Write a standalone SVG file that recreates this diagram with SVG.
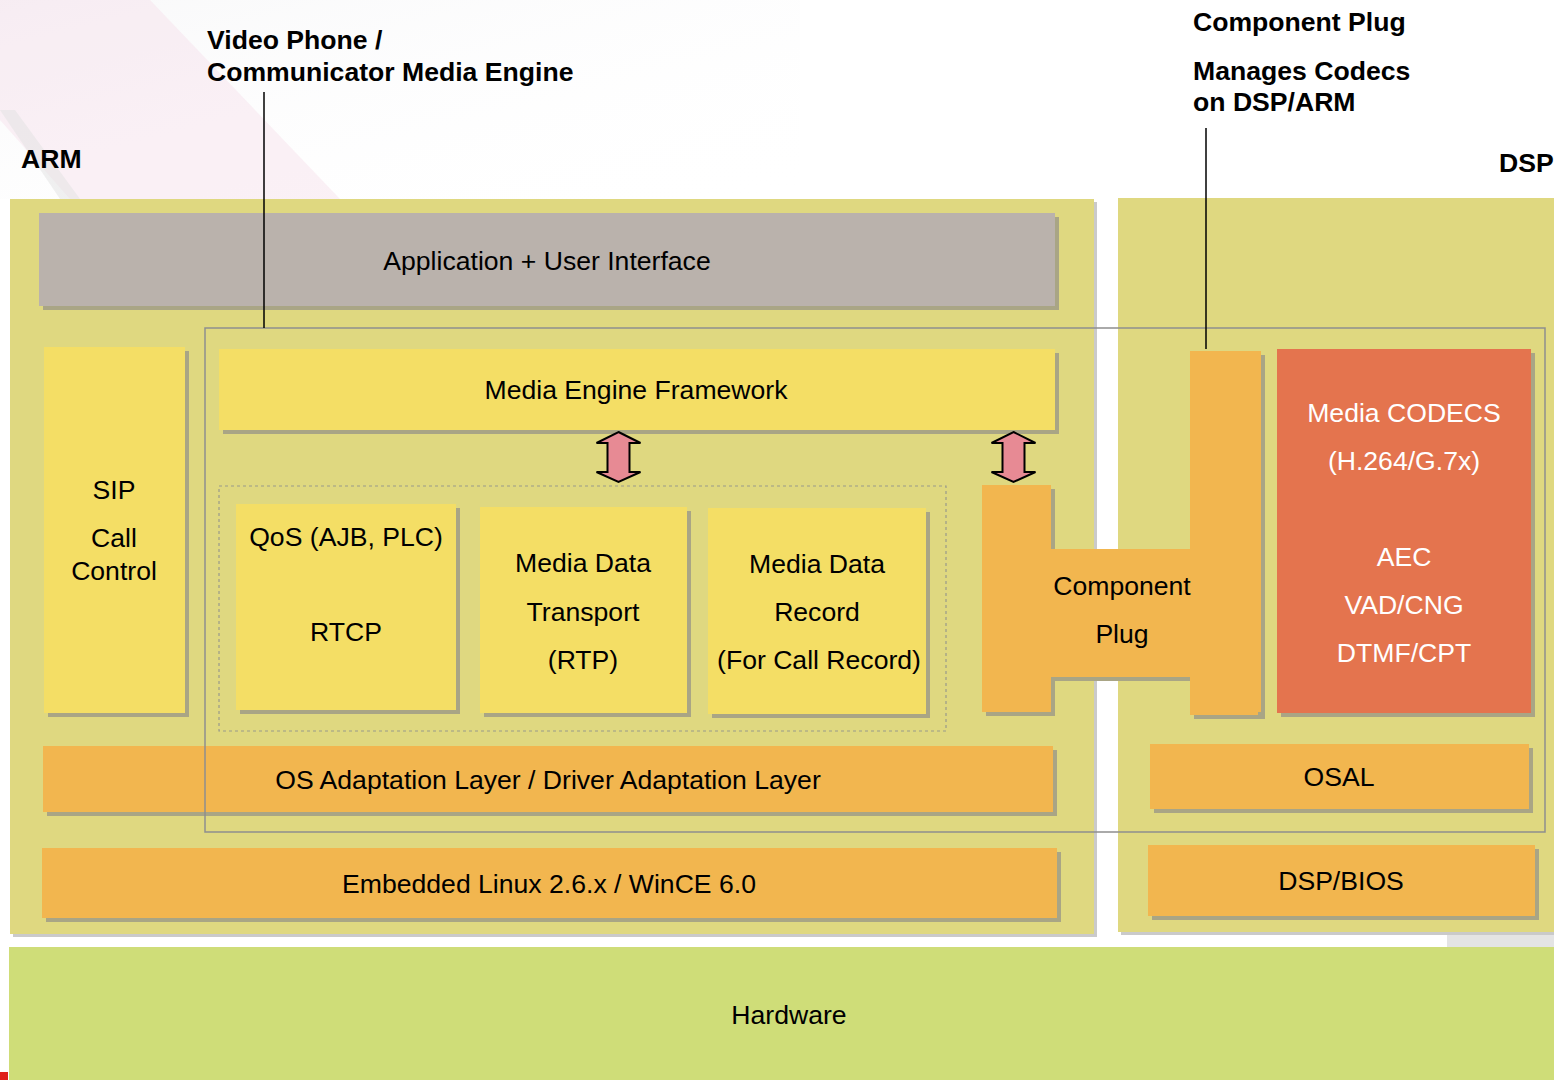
<svg xmlns="http://www.w3.org/2000/svg" width="1554" height="1080" viewBox="0 0 1554 1080">
<style>
.panel{fill:#DFD880}
.yel{fill:#F4DE65}
.org{fill:#F2B64F}
.app{fill:#BAB2AC}
.cod{fill:#E4744E}
.sh{fill:#A9A585}
.psh{fill:#CACACA}
.t{font-family:"Liberation Sans",Arial,sans-serif;font-size:26.6px;text-anchor:middle;fill:#000}
.w{fill:#FFFFFF}
.lb{font-family:"Liberation Sans",Arial,sans-serif;font-size:26.6px;font-weight:bold;fill:#000}
.ln{stroke:#000;stroke-width:1.5;fill:none}
.arr{fill:#E78A94;stroke:#000;stroke-width:2;stroke-linejoin:miter}
</style>
<defs>
<linearGradient id="fade" x1="0" y1="0" x2="1" y2="1">
<stop offset="0" stop-color="#F2F2F4" stop-opacity="0.5"/>
<stop offset="1" stop-color="#FFFFFF" stop-opacity="0"/>
</linearGradient>
<path id="dblarrow" d="M0,0 L22,11 L11,11 L11,40 L22,40 L0,50 L-22,40 L-11,40 L-11,11 L-22,11 Z"/>
</defs>
<rect x="0" y="0" width="1554" height="1080" fill="#FFFFFF"/>
<g id="background">
<rect x="0" y="0" width="800" height="199" fill="url(#fade)"/>
<polygon points="0,0 150,0 340,199 70,199 0,120" fill="#F4D8E6" opacity="0.35"/>
<polygon points="0,110 15,110 80,199 60,199" fill="#E2E2E2" opacity="0.5"/>
<rect x="1447" y="935" width="107" height="12" fill="#E4E4E4"/>
<rect x="0" y="1072" width="8" height="8" fill="#E0201A"/>
</g>

<g id="arm-panel">
<rect class="psh" x="13" y="202" width="1084" height="735"/>
<rect class="panel" x="10" y="199" width="1084" height="735"/>
<text class="lb" x="21" y="168">ARM</text>
</g>
<g id="dsp-panel">
<rect class="psh" x="1121" y="201" width="436" height="734"/>
<rect class="panel" x="1118" y="198" width="436" height="734"/>
<text class="lb" x="1499" y="172">DSP</text>
</g>
<g id="hardware">
<rect x="9" y="947" width="1545" height="133" fill="#CFDD78"/>
<text class="t" x="789" y="1024">Hardware</text>
</g>

<g id="app-ui">
<rect class="sh" x="43" y="217" width="1016" height="93"/>
<rect class="app" x="39" y="213" width="1016" height="93"/>
<text class="t" x="547" y="270">Application + User Interface</text>
</g>
<g id="sip">
<rect class="sh" x="48" y="351" width="141" height="366"/>
<rect class="yel" x="44" y="347" width="141" height="366"/>
<text class="t" x="114" y="499">SIP</text>
<text class="t" x="114" y="547">Call</text>
<text class="t" x="114" y="580">Control</text>
</g>
<g id="media-engine-framework">
<rect class="sh" x="223" y="353" width="836" height="81"/>
<rect class="yel" x="219" y="349" width="836" height="81"/>
<text class="t" x="636" y="399">Media Engine Framework</text>
</g>
<g id="media-group">
<rect x="219" y="486" width="727" height="245" fill="none" stroke="#9A9A8A" stroke-width="1.2" stroke-dasharray="3,3"/>
</g>
<g id="qos">
<rect class="sh" x="240" y="508" width="220" height="206"/>
<rect class="yel" x="236" y="504" width="220" height="206"/>
<text class="t" x="346" y="546">QoS (AJB, PLC)</text>
<text class="t" x="346" y="641">RTCP</text>
</g>
<g id="transport">
<rect class="sh" x="484" y="511" width="207" height="206"/>
<rect class="yel" x="480" y="507" width="207" height="206"/>
<text class="t" x="583" y="572">Media Data</text>
<text class="t" x="583" y="621">Transport</text>
<text class="t" x="583" y="669">(RTP)</text>
</g>
<g id="record">
<rect class="sh" x="712" y="512" width="218" height="206"/>
<rect class="yel" x="708" y="508" width="218" height="206"/>
<text class="t" x="817" y="573">Media Data</text>
<text class="t" x="817" y="621">Record</text>
<text class="t" x="819" y="669">(For Call Record)</text>
</g>
<g id="component-plug">
<path class="sh" d="M986,489 H1055 V553 H1194 V355 H1265 V719 H1194 V681 H1055 V716 H986 Z"/>
<path class="org" d="M982,485 H1051 V549 H1190 V351 H1261 V712 H1190 V677 H1051 V712 H982 Z"/>
<rect class="org" x="1190" y="708" width="68" height="7"/>
<text class="t" x="1122" y="595">Component</text>
<text class="t" x="1122" y="643">Plug</text>
</g>
<g id="codecs">
<rect class="sh" x="1281" y="353" width="254" height="364"/>
<rect class="cod" x="1277" y="349" width="254" height="364"/>
<text class="t w" x="1404" y="422">Media CODECS</text>
<text class="t w" x="1404" y="470">(H.264/G.7x)</text>
<text class="t w" x="1404" y="566">AEC</text>
<text class="t w" x="1404" y="614">VAD/CNG</text>
<text class="t w" x="1404" y="662">DTMF/CPT</text>
</g>
<g id="os-adaptation">
<rect class="sh" x="47" y="750" width="1010" height="66"/>
<rect class="org" x="43" y="746" width="1010" height="66"/>
<text class="t" x="548" y="789">OS Adaptation Layer / Driver Adaptation Layer</text>
</g>
<g id="embedded-os">
<rect class="sh" x="46" y="852" width="1015" height="70"/>
<rect class="org" x="42" y="848" width="1015" height="70"/>
<text class="t" x="549" y="893">Embedded Linux 2.6.x / WinCE 6.0</text>
</g>
<g id="osal">
<rect class="sh" x="1154" y="748" width="379" height="65"/>
<rect class="org" x="1150" y="744" width="379" height="65"/>
<text class="t" x="1339" y="786">OSAL</text>
</g>
<g id="dsp-bios">
<rect class="sh" x="1152" y="849" width="387" height="71"/>
<rect class="org" x="1148" y="845" width="387" height="71"/>
<text class="t" x="1341" y="890">DSP/BIOS</text>
</g>
<g id="media-engine-boundary">
<rect x="205" y="328" width="1340" height="504" fill="none" stroke="#8E8E8E" stroke-width="1.5"/>
</g>
<g id="label-media-engine">
<text class="lb" x="207" y="49">Video Phone /</text>
<text class="lb" x="207" y="81">Communicator Media Engine</text>
</g>
<g id="label-component-plug">
<text class="lb" x="1193" y="31">Component Plug</text>
<text class="lb" x="1193" y="80">Manages Codecs</text>
<text class="lb" x="1193" y="111">on DSP/ARM</text>
</g>
<g id="connectors">
<line class="ln" x1="264" y1="92" x2="264" y2="328"/>
<line class="ln" x1="1206" y1="128" x2="1206" y2="349" stroke-width="2"/>
<use href="#dblarrow" class="arr" transform="translate(618.5,432)"/>
<use href="#dblarrow" class="arr" transform="translate(1013.5,432)"/>
</g>
</svg>
